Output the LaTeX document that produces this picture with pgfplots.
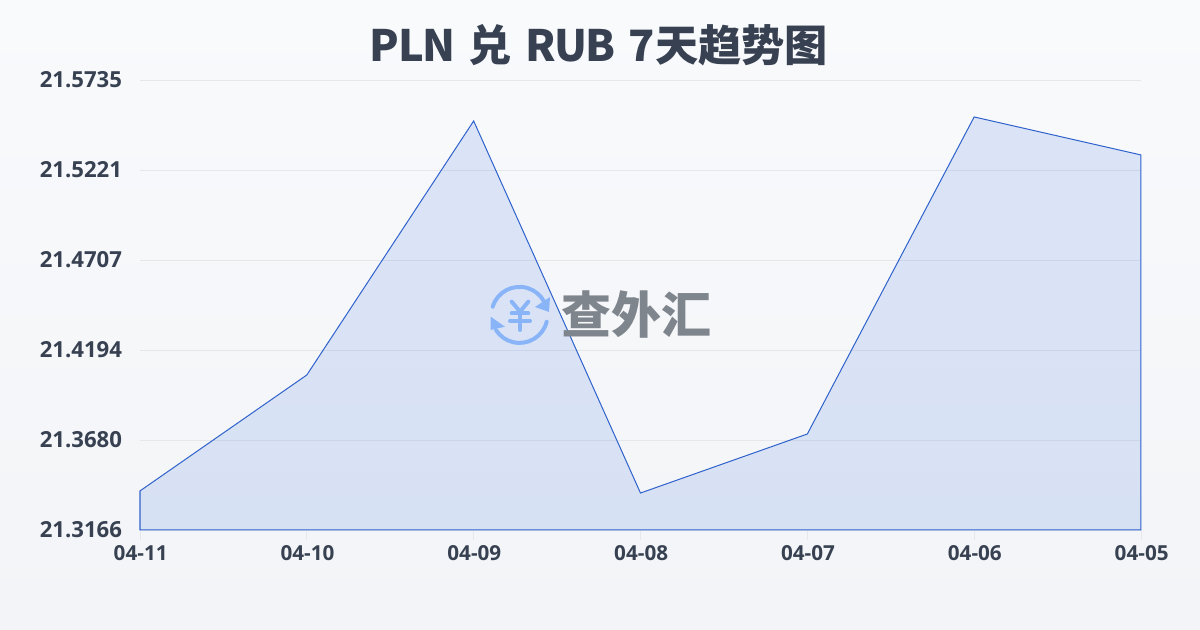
\documentclass[border=0pt]{standalone}
\usepackage{pgfplots}
\pgfplotsset{compat=1.18}
\usepackage{fontspec}
\setmainfont{Open Sans}
\newfontfamily\cjk{Noto Sans CJK SC}
\definecolor{ink}{HTML}{374151}
\definecolor{gridc}{HTML}{E5E7EB}
\definecolor{linec}{HTML}{2F62CC}
\definecolor{fillc}{HTML}{3B72E0}
\definecolor{logob}{HTML}{8AB4F8}
\definecolor{logog}{HTML}{7F858D}
\definecolor{bgt}{HTML}{F9FAFC}
\definecolor{bgb}{HTML}{F2F4F7}
\begin{document}
\begin{tikzpicture}
\begin{scope}[x=0.75pt,y=0.75pt]
\shade[top color=bgt, bottom color=bgb] (0,0) rectangle (1200,630);
\end{scope}
\begin{axis}[
  at={(105pt,75pt)}, anchor=south west,
  scale only axis, width=750.75pt, height=337.5pt,
  xmin=0, xmax=6, ymin=21.3166, ymax=21.5735,
  axis line style={draw=none},
  xtick={0,1,2,3,4,5,6},
  xticklabels={04-11,04-10,04-09,04-08,04-07,04-06,04-05},
  ytick={21.3166,21.3680,21.4194,21.4707,21.5221,21.5735},
  yticklabels={21.3166,21.3680,21.4194,21.4707,21.5221,21.5735},
  tick pos=left, tick align=outside,
  major tick length=7.5pt,
  x tick style={draw=gridc,line width=0.6pt},
  y tick style={draw=none},
  ymajorgrids, grid style={draw=gridc,line width=0.6pt},
  x tick label style={font=\bfseries\fontsize{15.5}{18}\selectfont,text=ink,yshift=-0.5pt,xshift=0.5pt},
  y tick label style={font=\bfseries\fontsize{16.6}{19}\selectfont,text=ink,xshift=-2.5pt,yshift=0.4pt},
  clip=false,
]
\addplot[draw=linec,line width=0.75pt,fill=fillc,fill opacity=0.15,draw opacity=1] coordinates {
 (0,21.3389)(1,21.4051)(2,21.5501)(3,21.3377)(4,21.3714)(5,21.5524)(6,21.5307)} \closedcycle;
\end{axis}
\begin{scope}[x=0.75pt,y=0.75pt]
\node[text=ink,font=\cjk\bfseries\fontsize{32.4}{40}\selectfont,anchor=center] at (599,585) {\spaceskip=.3em {\addfontfeatures{LetterSpace=-3}PLN} 兑 {\addfontfeatures{LetterSpace=-3}RUB} 7天趋势图};
\begin{scope}[draw=logob,line width=3pt,line cap=round,line join=round]
\draw (492.7,323.3) arc[start angle=163,end angle=27,radius=21pt];
\draw (546.7,308.3) arc[start angle=-14,end angle=-147,radius=21pt];
\fill[logob] (550,333) -- (549,318) -- (535,323) -- cycle;
\fill[logob] (490.7,313.3) -- (490.7,300) -- (505,303.3) -- cycle;
\draw (511.7,328.3) -- (520,318.3) -- (528.3,328.3);
\draw (511.7,316.7) -- (528.3,316.7);
\draw (510,309.3) -- (530,309.3);
\draw (520,318.3) -- (520,300);
\end{scope}
\node[text=logog,font=\cjk\bfseries\fontsize{37.5}{40}\selectfont,anchor=center] at (636,315) {查外汇};
\end{scope}
\end{tikzpicture}
\end{document}
